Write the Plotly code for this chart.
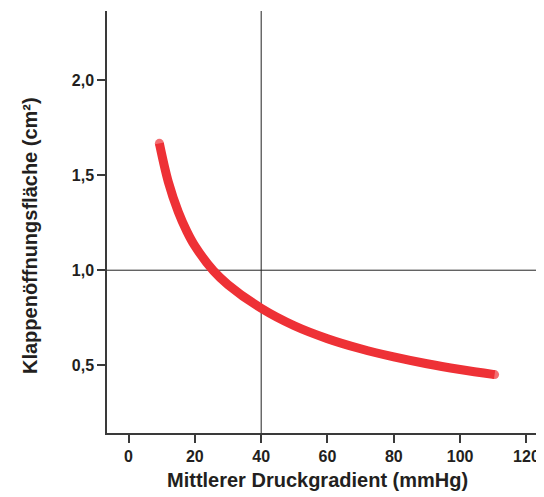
import plotly.graph_objects as go

# Data
gradient_mmHg = [9.3, 12, 15, 17.6, 20, 25.6, 30, 40, 50, 60, 70, 80, 90, 100, 110.4]
area_cm2 = [1.667, 1.464, 1.307, 1.204, 1.128, 0.997, 0.924, 0.80, 0.708, 0.640, 0.587, 0.544, 0.508, 0.478, 0.451]
x_ticks = [0, 20, 40, 60, 80, 100, 120]
y_ticks = [0.5, 1.0, 1.5, 2.0]
ref_gradient = 40
ref_area = 1.0

TEXT = "#231f20"
RED = "#ee3136"
AXIS = "#3a3a3a"
FONT = "Liberation Sans, Arial, sans-serif"

# page body has an 8px margin; figure sits at (8, 8) in the window
W, H = 536, 489
L, T, B, R = 99, 3, 64, 0
PW, PH = W - L - R, H - T - B

fig = go.Figure()

msize = [9] + [0] * (len(gradient_mmHg) - 2) + [9]
fig.add_trace(go.Scatter(
    x=gradient_mmHg, y=area_cm2, mode="lines+markers",
    line=dict(color=RED, width=9, shape="spline", smoothing=1.0),
    marker=dict(color=RED, size=msize, line=dict(width=0)),
    showlegend=False, hoverinfo="skip",
))

fig.add_shape(type="line", xref="x", yref="paper", x0=ref_gradient, x1=ref_gradient, y0=0, y1=1,
              line=dict(color="#222222", width=1), layer="below")
fig.add_shape(type="line", xref="paper", yref="y", x0=0, x1=1, y0=ref_area, y1=ref_area,
              line=dict(color="#222222", width=1), layer="below")

fig.update_layout(
    width=W, height=H,
    margin=dict(l=L, r=R, t=T, b=B),
    paper_bgcolor="white", plot_bgcolor="white",
    separators=",.",
    font=dict(family=FONT, color=TEXT),
    xaxis=dict(
        range=[-6.5, 125.3], tickvals=x_ticks, ticks="outside", ticklen=8, tickwidth=1.5,
        tickcolor=AXIS, showline=True, linecolor=AXIS, linewidth=1.5,
        showgrid=False, zeroline=False,
        tickfont=dict(family=FONT, size=16, color=TEXT, weight="bold"),
    ),
    yaxis=dict(
        range=[0.144, 2.363], tickvals=y_ticks, tickformat=".1f", ticks="outside", ticklen=8,
        tickwidth=1.5, tickcolor=AXIS, showline=True, linecolor=AXIS, linewidth=1.5,
        showgrid=False, zeroline=False,
        tickfont=dict(family=FONT, size=16, color=TEXT, weight="bold"),
    ),
    annotations=[
        dict(text="Mittlerer Druckgradient (mmHg)", xref="paper", yref="paper",
             x=(309.5 - L) / PW, y=-(472 - (H - B)) / PH, xanchor="center", yanchor="middle",
             showarrow=False, font=dict(family=FONT, size=20, color=TEXT, weight="bold")),
        dict(text="Klappenöffnungsfläche (cm²)", xref="paper", yref="paper",
             x=-(L - 22) / PW, y=((H - B) - 228) / PH, xanchor="center", yanchor="middle",
             textangle=-90, showarrow=False,
             font=dict(family=FONT, size=20, color=TEXT, weight="bold")),
    ],
)

fig.write_html("out.html")
